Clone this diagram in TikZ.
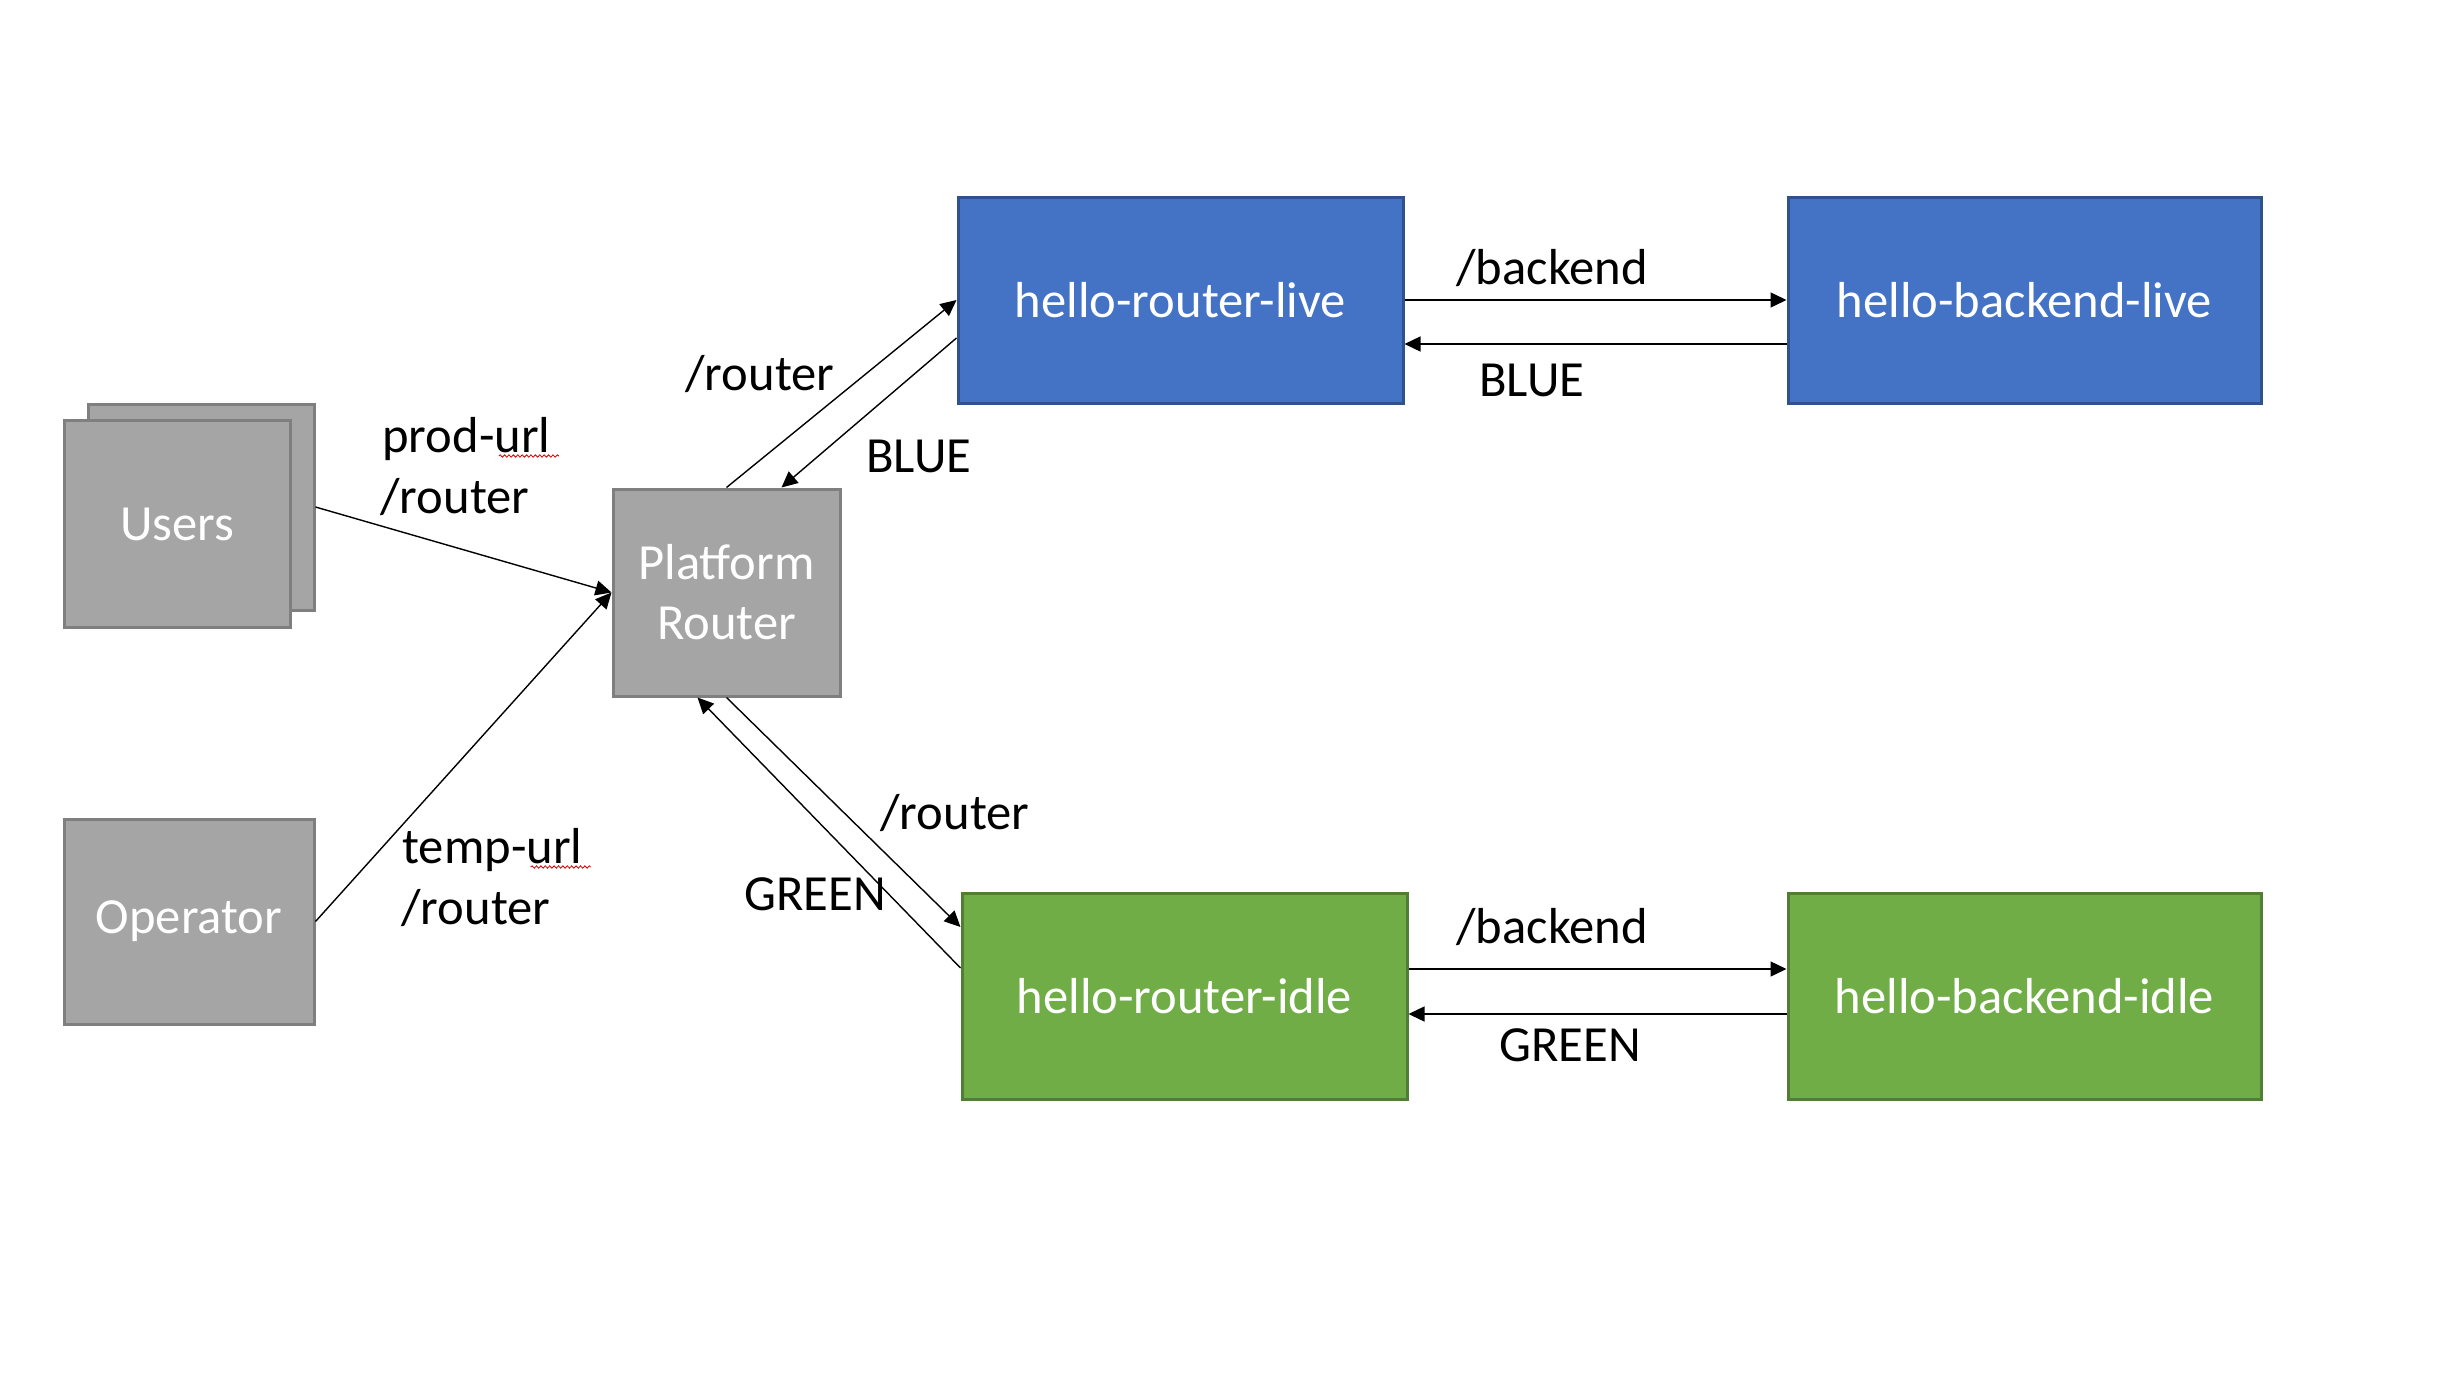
\documentclass[tikz,border=0pt]{standalone}
\usepackage{fontspec}
\setmainfont{Carlito}
\usetikzlibrary{arrows.meta,decorations.pathmorphing}

\definecolor{boxgray}{HTML}{A5A5A5}
\definecolor{edgegray}{HTML}{7F7F7F}
\definecolor{boxblue}{HTML}{4472C4}
\definecolor{edgeblue}{HTML}{2F528F}
\definecolor{boxgreen}{HTML}{70AD47}
\definecolor{edgegreen}{HTML}{507E32}

\tikzset{
  graybox/.style={draw=edgegray, fill=boxgray, line width=1.5pt, text=white, inner sep=0pt, align=center},
  bluebox/.style={draw=edgeblue, fill=boxblue, line width=1.5pt, text=white, inner sep=0pt, align=center},
  greenbox/.style={draw=edgegreen, fill=boxgreen, line width=1.5pt, text=white, inner sep=0pt, align=center},
  link/.style={line width=0.7pt, -{Triangle[length=8pt,width=7.5pt]}},
  lbl/.style={inner sep=0pt, anchor=base west},
  squiggle/.style={red!85!black, line width=0.4pt, decorate, decoration={snake, amplitude=0.6pt, segment length=2.2pt}}
}

\begin{document}
\begin{tikzpicture}[x=0.5pt,y=0.5pt,yscale=-1,xscale=1,font=\fontsize{25.3pt}{30pt}\selectfont]
\useasboundingbox (0,0) rectangle (2454,1387);

%Shape: Rectangle (stacked users)
\node (usersback) [graybox, minimum width=113pt, minimum height=103pt] at (201,507) {};
\node (users) [graybox, minimum width=113pt, minimum height=103.5pt] at (177,524) {Users};
%Shape: Rectangle
\node (operator) [graybox, minimum width=125pt, minimum height=102.5pt] at (189,921.5) {Operator};
%Shape: Rectangle
\node (platform) [graybox, minimum width=113.5pt, minimum height=103.5pt] at (726.5,592.5) {Platform\\Router};

%Shape: Rectangle (live)
\node (routerlive) [bluebox, minimum width=222.5pt, minimum height=103pt] at (1180.5,300) {hello-router-live};
\node (backendlive) [bluebox, minimum width=236.5pt, minimum height=103pt] at (2024.5,300) {hello-backend-live};
%Shape: Rectangle (idle)
\node (routeridle) [greenbox, minimum width=222.5pt, minimum height=103pt] at (1184.5,996) {hello-router-idle};
\node (backendidle) [greenbox, minimum width=236.5pt, minimum height=103pt] at (2024.5,996) {hello-backend-idle};

%Straight Lines
\draw [link] (usersback.east) -- (platform.west);
\draw [link] (operator.east) -- (platform.west);

%Straight Lines
\draw [link] (platform.north) -- (routerlive.west);
\draw [link] ([yshift=19pt]routerlive.west) -- ([xshift=27.5pt]platform.north);
\draw [link] (platform.south) -- ([yshift=-34.5pt]routeridle.west);
\draw [link] ([yshift=-14pt]routeridle.west) -- ([xshift=-14.5pt]platform.south);

%Straight Lines
\draw [link] (routerlive.east) -- (backendlive.west);
\draw [link] ([yshift=22pt]backendlive.west) -- ([yshift=22pt]routerlive.east);
\draw [link] ([yshift=-13.5pt]routeridle.east) -- ([yshift=-13.5pt]backendidle.west);
\draw [link] ([yshift=9pt]backendidle.west) -- ([yshift=9pt]routeridle.east);

% Text Node
\node (produrl) [lbl] at (382,452) {prod-url};
\node (prodpath) [lbl] at (380,513) {/router};
% Text Node
\node (tempurl) [lbl] at (402,863) {temp-url};
\node (temppath) [lbl] at (401,924) {/router};
% Text Node
\node (livepath) [lbl] at (685,390) {/router};
\node (liveback) [lbl] at (866,472) {BLUE};
% Text Node
\node (idlepath) [lbl] at (880,829) {/router};
\node (idleback) [lbl] at (744,910) {GREEN};
% Text Node
\node (livebackend) [lbl] at (1456,284) {/backend};
\node (livereply) [lbl] at (1479,396) {BLUE};
% Text Node
\node (idlebackend) [lbl] at (1456,943) {/backend};
\node (idlereply) [lbl] at (1499,1061) {GREEN};

%spell check marks
\draw [squiggle] ([xshift=-26pt,yshift=2pt]produrl.base east) -- ([xshift=4pt,yshift=2pt]produrl.base east);
\draw [squiggle] ([xshift=-26pt,yshift=2pt]tempurl.base east) -- ([xshift=4pt,yshift=2pt]tempurl.base east);

\end{tikzpicture}
\end{document}
